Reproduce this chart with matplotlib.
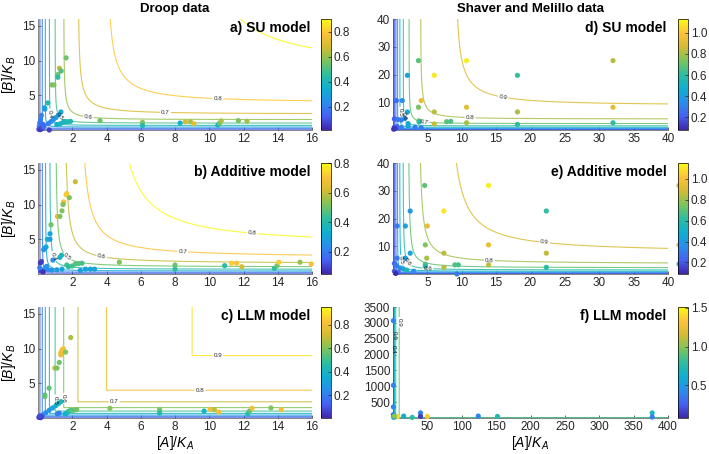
import numpy as np
import matplotlib
matplotlib.use('Agg')
import matplotlib.pyplot as plt
from matplotlib.colors import LinearSegmentedColormap, Normalize
from matplotlib.cm import ScalarMappable

plt.rcParams['font.family'] = ['Liberation Sans', 'DejaVu Sans']
plt.rcParams['mathtext.fontset'] = 'custom'
plt.rcParams['mathtext.rm'] = 'Liberation Sans'
plt.rcParams['mathtext.it'] = 'Liberation Sans:italic'

# parula-like colormap
parula = LinearSegmentedColormap.from_list('parula', [
    '#3e26a8', '#4662f3', '#2a8ded', '#0eb0d0', '#2ebd9f',
    '#7dc45c', '#d4bb32', '#fdc23a', '#f9fb15'])

levels = [0.1, 0.2, 0.3, 0.4, 0.5, 0.6, 0.7, 0.8, 0.9]

# ---- Droop data, SU model (a)
a_x = [0.05, 0.08, 0.1, 0.15, 0.2, 0.25, 0.3, 0.12, 0.2, 0.3, 0.35, 0.66,
       0.6, 0.75, 0.9, 1.05, 1.2, 1.34,
       0.38, 0.4, 0.57, 0.8, 0.93, 1.16, 1.16, 1.25, 1.35, 1.64,
       1.1, 1.3, 1.5, 1.6, 1.75, 1.9,
       3.62, 6.1, 6.1, 8.3, 8.6, 8.9, 9.1, 10.5, 10.6, 10.7, 11.7, 12.2]
a_y = [0.1, 0.5, 1.0, 1.5, 2.1, 0.3, 0.8, 0.05, 0.15, 0.4, 0.6, 0.0,
       0.9, 1.2, 1.5, 1.8, 2.2, 2.6,
       3.2, 3.0, 3.9, 6.5, 6.5, 8.0, 7.6, 8.9, 8.5, 10.4,
       0.8, 0.9, 1.2, 1.2, 1.2, 1.25,
       1.35, 1.1, 0.65, 1.0, 1.2, 1.2, 0.9, 0.7, 1.0, 1.3, 1.35, 1.25]
a_c = [0.1, 0.15, 0.18, 0.2, 0.22, 0.08, 0.15, 0.05, 0.06, 0.12, 0.15, 0.06,
       0.2, 0.22, 0.25, 0.28, 0.3, 0.33,
       0.33, 0.3, 0.42, 0.55, 0.57, 0.55, 0.45, 0.65, 0.5, 0.55,
       0.35, 0.38, 0.4, 0.4, 0.42, 0.42,
       0.55, 0.58, 0.42, 0.35, 0.68, 0.62, 0.72, 0.4, 0.55, 0.63, 0.56, 0.62]

# ---- Droop data, Additive model (b)
b_x = [2.18, 1.68, 1.64, 1.83, 1.5, 1.48, 1.46, 1.4, 1.13, 1.28, 0.76, 0.7,
       0.55, 0.7, 0.47, 0.4, 0.33, 0.2, 0.14, 1.28, 1.37, 0.87,
       1.68, 1.78, 1.99, 2.18, 2.37, 2.57, 2.47, 2.77, 3.06, 3.3,
       0.2, 0.4, 0.6, 0.8, 1.1, 1.4, 0.15, 0.3, 0.1, 0.5,
       4.75, 8.0, 8.0, 10.9, 11.3, 11.6, 11.9, 13.8, 13.96, 14.06, 15.3, 15.96]
b_y = [13.3, 11.6, 11.4, 11.0, 10.4, 10.2, 10.0, 9.1, 8.3, 8.3, 7.1, 5.8,
       5.0, 5.0, 3.9, 3.7, 3.5, 1.8, 1.6, 2.4, 2.7, 2.0,
       1.3, 1.05, 1.15, 1.45, 1.5, 1.55, 0.5, 0.7, 0.7, 0.7,
       0.6, 0.65, 0.6, 0.55, 0.6, 0.7, 0.4, 0.3, 0.9, 1.1,
       1.7, 1.3, 0.7, 1.2, 1.55, 1.55, 1.05, 0.8, 1.2, 1.7, 1.7, 1.45]
b_c = [0.6, 0.7, 0.72, 0.52, 0.7, 0.68, 0.52, 0.52, 0.65, 0.52, 0.5, 0.3,
       0.33, 0.28, 0.33, 0.3, 0.26, 0.1, 0.08, 0.35, 0.38, 0.25,
       0.45, 0.42, 0.45, 0.47, 0.48, 0.45, 0.28, 0.3, 0.3, 0.3,
       0.22, 0.25, 0.24, 0.26, 0.27, 0.3, 0.1, 0.07, 0.2, 0.25,
       0.52, 0.5, 0.43, 0.4, 0.72, 0.7, 0.62, 0.42, 0.5, 0.72, 0.54, 0.7]

# ---- Droop data, LLM model (c)
c_x = [1.91, 1.48, 1.4, 1.33, 1.33, 1.61, 1.24, 0.98, 1.11, 0.65, 0.4, 0.4,
       0.27, 0.45, 0.65, 0.85, 1.05, 1.2, 1.34,
       1.24, 1.13, 1.68, 1.58, 1.78, 1.91, 2.07, 2.26,
       0.05, 0.1, 0.15, 0.2, 0.1,
       4.2, 7.1, 7.1, 9.7, 10.05, 10.3, 10.55, 12.25, 12.35, 12.5, 13.6, 14.2]
c_y = [11.6, 10.0, 9.8, 9.4, 9.1, 9.5, 8.0, 7.2, 7.2, 4.3, 3.3, 3.1,
       0.43, 0.75, 1.1, 1.45, 1.8, 2.1, 2.35,
       0.7, 0.6, 0.7, 0.6, 0.95, 1.1, 1.1, 1.2,
       0.1, 0.2, 0.05, 0.15, 0.3,
       1.4, 1.2, 0.7, 1.0, 1.25, 1.2, 0.85, 0.6, 1.0, 1.4, 1.45, 1.2]
c_c = [0.66, 0.82, 0.8, 0.8, 0.78, 0.6, 0.57, 0.68, 0.58, 0.55, 0.55, 0.56,
       0.2, 0.24, 0.28, 0.32, 0.36, 0.4, 0.42,
       0.22, 0.2, 0.4, 0.38, 0.45, 0.52, 0.55, 0.58,
       0.05, 0.05, 0.04, 0.06, 0.08,
       0.6, 0.58, 0.45, 0.4, 0.8, 0.68, 0.82, 0.45, 0.55, 0.8, 0.6, 0.8]

# ---- Shaver and Melillo data, SU model (d)
d_x = [3.7, 10.7, 32, 2.1, 6.0, 18.1, 0.5, 1.35, 4.1, 3.7, 10.7, 32, 2.1, 6.0, 18.1,
       3.8, 3.8, 6.0, 7.8, 8.4, 10.7, 18.1, 32,
       0.2, 0.7, 1.2, 1.7, 0.2, 0.6, 1.2, 2.2, 3.2, 2.2, 4.1, 0.1, 0.3]
d_y = [25, 25, 25, 19.7, 19.7, 19.7, 10.6, 10.6, 10.6, 8.2, 8.2, 8.2, 6.5, 6.5, 6.5,
       3.3, 2.9, 2.2, 3.0, 3.1, 2.6, 2.0, 2.6,
       4.0, 3.8, 3.6, 4.2, 1.0, 1.2, 0.9, 1.5, 1.0, 2.3, 0.8, 0.3, 0.5]
d_c = [0.68, 1.1, 0.82, 0.42, 1.08, 0.62, 0.25, 0.35, 0.92, 0.72, 0.92, 0.92, 0.45, 0.82, 0.8,
       0.7, 0.6, 0.85, 0.68, 0.66, 0.8, 0.6, 0.6,
       0.2, 0.28, 0.3, 0.35, 0.18, 0.22, 0.3, 0.4, 0.3, 0.45, 0.28, 0.1, 0.12]

# ---- Shaver and Melillo data, Additive model (e)
e_x = [4.6, 13.9, 41.6, 2.5, 7.4, 22.3, 0.6, 1.8, 5.0, 4.7, 13.9, 41.6, 22.3, 7.4, 2.5,
       0.6, 1.8, 4.9, 4.7, 4.7, 7.4, 9.0, 9.5, 13.9, 22.3, 41.6,
       0.2, 0.5, 1.0, 1.5, 2.0, 3.0, 0.2, 0.8, 9.3, 0.4]
e_y = [31.9, 31.9, 31.9, 22.7, 22.7, 22.7, 17.3, 17.3, 17.3, 10.5, 10.5, 10.5, 7.5, 7.5, 7.5,
       5.7, 5.7, 5.7, 3.5, 2.8, 2.4, 3.3, 3.3, 3.3, 2.4, 3.6,
       3.8, 3.0, 2.2, 1.8, 1.4, 1.0, 1.0, 0.6, 0.0, 0.2]
e_c = [0.7, 1.12, 0.85, 0.4, 1.1, 0.62, 0.3, 0.42, 0.95, 0.75, 0.95, 0.95, 0.85, 0.85, 0.45,
       0.3, 0.42, 0.82, 0.68, 0.6, 0.85, 0.68, 0.66, 0.85, 0.6, 0.6,
       0.25, 0.3, 0.35, 0.45, 0.55, 0.35, 0.2, 0.25, 0.3, 0.1]

# ---- Shaver and Melillo data, LLM model (f)
f_x = [0.5, 0.5, 0.5, 0.5, 4.6, 7, 15.5, 28, 40, 40, 50, 124, 152, 377, 377, 1, 2]
f_y = [3070, 1030, 350, 110, 40, 50, 60, 20, 160, 50, 50, 60, 50, 160, 30, 20, 60]
f_c = [0.4, 0.4, 0.42, 0.4, 0.5, 1.4, 0.6, 0.8, 0.4, 0.15, 1.35, 0.4, 0.75, 0.7, 0.38, 0.6, 1.0]


def su(x, y, m=1.0):
    return m / (1 + 1 / x + 1 / y - 1 / (x + y))


def additive(x, y, m=1.0):
    return m / (1 + 1 / x + 1 / y)


def llm(x, y, m=1.0):
    return m * np.minimum(x / (1 + x), y / (1 + y))


def grid(vmax, n_fine, n_coarse, split):
    if split is None:
        return np.linspace(0.004, vmax, n_fine)
    return np.concatenate([np.linspace(0.004, split, n_fine),
                           np.linspace(split, vmax, n_coarse)[1:]])


def panel(ax, cax, zfun, xmax, ymax, px, py, pc, clim, cticks, title,
          labpos, xticks, yticks, split=None):
    gx = grid(xmax, 900, 300, split)
    gy = grid(ymax, 900, 300, split)
    X, Y = np.meshgrid(gx, gy)
    Z = zfun(X, Y)
    norm = Normalize(clim[0], clim[1])
    cs = ax.contour(X, Y, Z, levels=levels, cmap=parula, norm=norm,
                    linewidths=0.8, alpha=0.85)
    ax.clabel(cs, inline=True, fontsize=4.5, fmt='%.1f', colors='k',
              manual=labpos, inline_spacing=1)
    ax.scatter(px, py, c=pc, cmap=parula, norm=norm, s=14,
               edgecolors='none', zorder=3, clip_on=False)
    ax.set_xlim(0, xmax)
    ax.set_ylim(0, ymax)
    ax.set_xticks(xticks)
    ax.set_yticks(yticks)
    ax.tick_params(direction='in', length=2.5, width=0.5, labelsize=8.5,
                   colors='#262626', pad=2)
    for s in ['top', 'right']:
        ax.spines[s].set_visible(False)
    for s in ['left', 'bottom']:
        ax.spines[s].set_linewidth(0.5)
        ax.spines[s].set_color('#555555')
    ax.text(0.995, 0.985, title, transform=ax.transAxes, ha='right',
            va='top', fontsize=10, fontweight='bold')
    cb = plt.colorbar(ScalarMappable(norm=norm, cmap=parula), cax=cax)
    cb.set_ticks(cticks)
    cb.ax.yaxis.set_major_formatter(plt.FormatStrFormatter('%.1f'))
    cb.ax.tick_params(direction='in', length=2, width=0.5, labelsize=8.5,
                      colors='#262626', pad=2)
    cb.outline.set_linewidth(0.5)


fig = plt.figure(figsize=(7.09, 4.54), dpi=100)

W, H = 709.0, 454.0
rows_top = [19, 163, 307]
ah = 111
col_left = [38, 393]
aw = [274, 275]
cb_left = [321, 678]
cbw = 10


def add(col, row):
    x0 = col_left[col] / W
    y0 = (H - rows_top[row] - ah) / H
    ax = fig.add_axes([x0, y0, aw[col] / W, ah / H])
    cax = fig.add_axes([cb_left[col] / W, y0, cbw / W, ah / H])
    return ax, cax


ax, cax = add(0, 0)
panel(ax, cax, su, 16, 16, a_x, a_y, a_c, (0.016, 0.9), [0.2, 0.4, 0.6, 0.8],
      'a) SU model', [(10.5, 4.4), (7.45, 2.5), (2.94, 1.8), (1.2, 1.8), (0.7, 2.3)],
      range(2, 17, 2), [5, 10, 15])
ax.set_ylabel('$[B]/K_B$', fontsize=10, labelpad=3)
ax.set_title('Droop data', fontsize=9.5, fontweight='bold', pad=5)

ax, cax = add(0, 1)
panel(ax, cax, additive, 16, 16, b_x, b_y, b_c, (0.05, 0.8), [0.2, 0.4, 0.6, 0.8],
      'b) Additive model', [(12.5, 5.9), (8.45, 3.2), (3.72, 2.5), (1.64, 2.3), (0.86, 2.5)],
      range(2, 17, 2), [5, 10, 15])
ax.set_ylabel('$[B]/K_B$', fontsize=10, labelpad=3)

ax, cax = add(0, 2)
panel(ax, cax, llm, 16, 16, c_x, c_y, c_c, (0.005, 0.95), [0.2, 0.4, 0.6, 0.8],
      'c) LLM model', [(10.5, 9.0), (9.45, 4.0), (4.45, 2.33), (1.5, 2.8), (1.0, 2.6)],
      range(2, 17, 2), [5, 10, 15])
ax.set_ylabel('$[B]/K_B$', fontsize=10, labelpad=3)
ax.set_xlabel('$[A]/K_A$', fontsize=10, labelpad=1)

ax, cax = add(1, 0)
panel(ax, cax, su, 40, 40, d_x, d_y, d_c, (0.08, 1.13), [0.2, 0.4, 0.6, 0.8, 1.0],
      'd) SU model', [(16.0, 11.6), (11.2, 4.4), (4.5, 2.9), (1.7, 5.0), (1.2, 6.5)],
      range(5, 41, 5), [10, 20, 30, 40])
ax.set_title('Shaver and Melillo data', fontsize=9.5, fontweight='bold', pad=5)

ax, cax = add(1, 1)
panel(ax, cax, lambda x, y: additive(x, y, 1.02), 40, 40, e_x, e_y, e_c,
      (0.09, 1.15), [0.2, 0.4, 0.6, 0.8, 1.0],
      'e) Additive model', [(22.0, 10.2), (14.0, 4.2), (5.1, 2.6), (1.9, 3.9), (1.4, 5.0)],
      range(5, 41, 5), [10, 20, 30, 40])

ax, cax = add(1, 2)
panel(ax, cax, llm, 400, 3500, f_x, f_y, f_c, (0.08, 1.51), [0.5, 1.0, 1.5],
      'f) LLM model', [(9.0, 3020), (1.5, 2590), (0.67, 2170)],
      range(50, 401, 50), range(500, 3501, 500), split=20)
ax.set_xlabel('$[A]/K_A$', fontsize=10, labelpad=1)

fig.savefig('out.png', dpi=100)
